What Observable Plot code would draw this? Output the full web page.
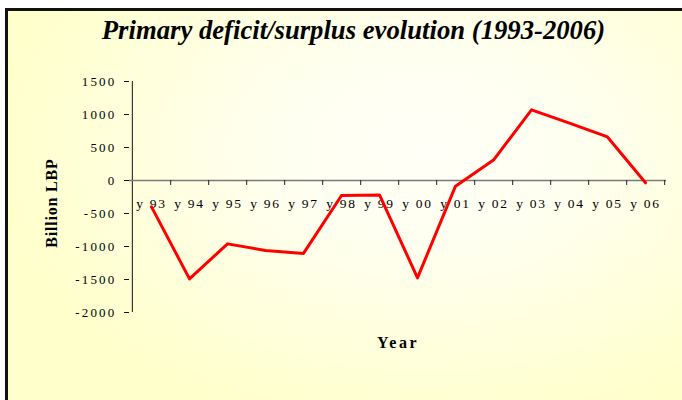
<!DOCTYPE html>
<html><head><meta charset="utf-8">
<script src="https://cdn.jsdelivr.net/npm/d3@7"></script>
<script src="https://cdn.jsdelivr.net/npm/@observablehq/plot@0.6"></script>
<style>
html,body{margin:0;padding:0;background:#fff;overflow:hidden;}
#frame{position:absolute;left:5px;top:8px;width:677px;height:392px;border-left:3px solid #111;border-top:3px solid #111;
  background:radial-gradient(ellipse 75% 85% at 62% 35%, #fffff7 0%, #fffff0 30%, #ffffcc 85%);overflow:hidden;}
#title{height:40px;margin:0;padding-left:14px;text-align:center;font-family:"Liberation Serif","Times New Roman",serif;
  font-weight:bold;font-style:italic;font-size:26.7px;line-height:38px;color:#000;}
svg text{font-family:"Liberation Serif","Times New Roman",serif;fill:#000;}
</style>
</head><body>
<div id="frame"><div id="title">Primary deficit/surplus evolution (1993-2006)</div><div id="chart"></div></div>
<script>
const years = ["y 93","y 94","y 95","y 96","y 97","y 98","y 99","y 00","y 01","y 02","y 03","y 04","y 05","y 06"];
const values = [-400, -1490, -960, -1060, -1105, -227, -218, -1475, -86, 310, 1070, 870, 660, -35];
const yTicks = [-2000, -1500, -1000, -500, 0, 500, 1000, 1500];
const yDomain = [-2000, 1500];
const xTitle = "Year";
const yTitle = "Billion LBP";

const W = 674, H = 349, mL = 121, mR = 16, mT = 30, mB = 88;
const bw = (W - mL - mR) / years.length;
const tickUnits = 5 * (yDomain[1] - yDomain[0]) / (H - mT - mB);
const data = years.map((y, i) => ({year: y, value: values[i]}));

const chart = Plot.plot({
  width: W, height: H,
  marginLeft: mL, marginRight: mR, marginTop: mT, marginBottom: mB,
  style: {background: "transparent", fontSize: "13px", overflow: "visible"},
  x: {type: "band", domain: years, padding: 0, axis: null},
  y: {domain: yDomain, axis: null},
  marks: [
    Plot.axisY({ticks: yTicks, tickSize: 5, tickPadding: 8, tickFormat: d => String(d), label: null, fontSize: 13, stroke: "#111"}),
    Plot.ruleX([years[0]], {x: d => d, y1: yDomain[0], y2: yDomain[1], dx: -bw / 2, stroke: "#111", strokeWidth: 1}),
    Plot.ruleY([0], {stroke: "#7a7a7a", strokeWidth: 1.5}),
    Plot.ruleX(years, {x: d => d, y1: 0, y2: -tickUnits, dx: bw / 2, stroke: "#222", strokeWidth: 1}),
    Plot.text(years, {x: d => d, y: 0, text: d => d, dy: 23, fontSize: 13.5}),
    Plot.line(data, {x: "year", y: "value", stroke: "#ff0000", strokeWidth: 3}),
    Plot.text([xTitle], {frameAnchor: "bottom", lineAnchor: "middle", dy: 30, text: d => d, fontSize: 16, fontWeight: "bold"}),
    Plot.text([yTitle], {frameAnchor: "left", textAnchor: "middle", dx: -78, dy: 6, rotate: -90, text: d => d, fontSize: 16, fontWeight: "bold"})
  ]
});
function spacing(g, v) { if (g) g.querySelectorAll("text").forEach(t => t.setAttribute("letter-spacing", v)); }
spacing(chart.querySelector('g[aria-label="y-axis tick label"]'), "2.2px");
const textGroups = chart.querySelectorAll('g[aria-label="text"]');
spacing(textGroups[0], "1.7px");
spacing(textGroups[1], "2.5px");
spacing(textGroups[2], "0.8px");
document.getElementById("chart").appendChild(chart);
</script>
</body></html>
